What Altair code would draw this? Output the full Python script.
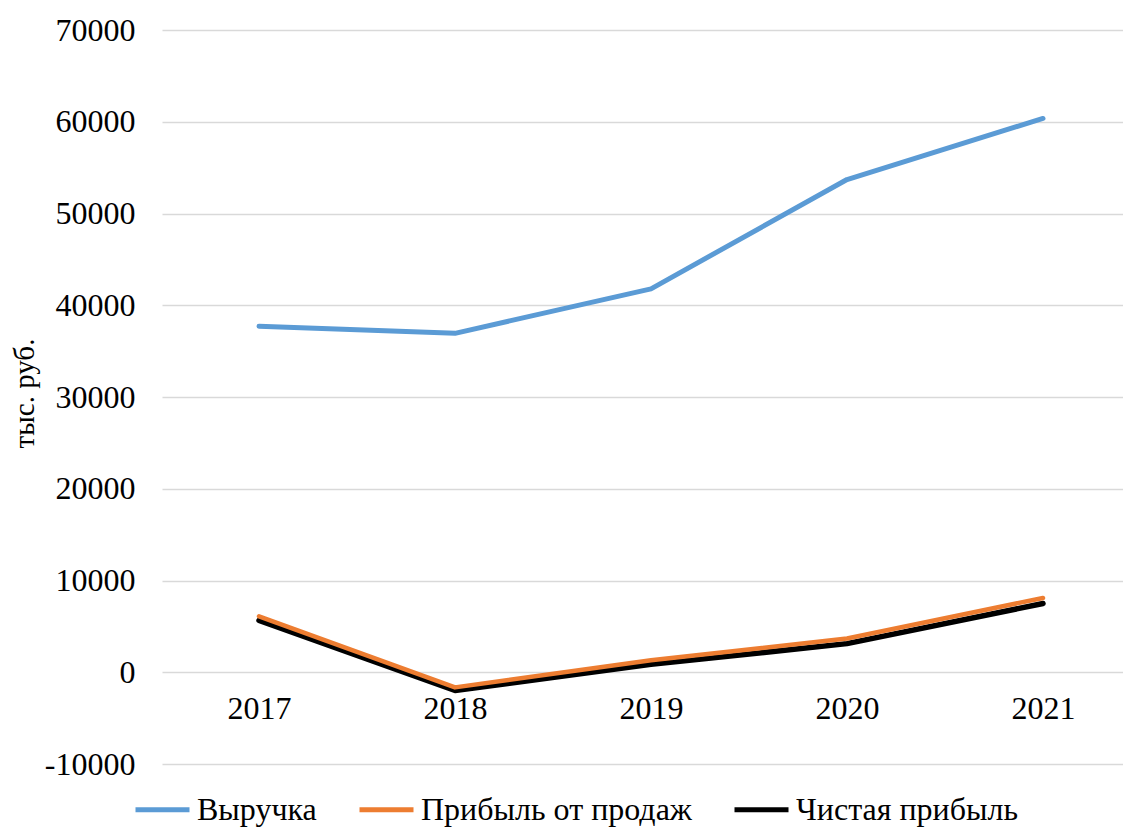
import altair as alt
import pandas as pd

# ---- data ----
years = [2017, 2018, 2019, 2020, 2021]
series_names = ["Выручка", "Прибыль от продаж", "Чистая прибыль"]
revenue = [37710, 36940, 41790, 53700, 60360]
sales_profit = [6100, -1650, 1300, 3670, 8100]
net_profit = [5640, -1980, 860, 3120, 7490]
colors = ["#5B9BD5", "#ED7D31", "#000000"]
y_ticks = list(range(-10000, 70001, 10000))

rows = []
for name, vals in zip(series_names, [revenue, sales_profit, net_profit]):
    for yr, v in zip(years, vals):
        rows.append({"year": yr, "value": v, "series": name})
df = pd.DataFrame(rows)

FONT = "Liberation Serif"
W = 961
H = 734
STEP = 196
x_min = 2017 - 97 / STEP
x_max = x_min + W / STEP

base = alt.Chart(df).encode(
    x=alt.X(
        "year:Q",
        scale=alt.Scale(domain=[x_min, x_max], nice=False, zero=False),
        axis=alt.Axis(
            values=years, format="d", title=None, grid=False, domain=False,
            ticks=False, offset=-92.7, labelPadding=22, labelFontSize=32,
            labelFont=FONT, labelColor="#000000",
        ),
    ),
    y=alt.Y(
        "value:Q",
        scale=alt.Scale(domain=[-10000, 70000], nice=False, zero=False),
        axis=alt.Axis(
            values=y_ticks,
            labelExpr="datum.value < 0 ? '-' + format(-datum.value, 'd') : format(datum.value, 'd')",
            title="тыс. руб.", grid=True,
            gridColor="#D9D9D9", gridWidth=1.5, domain=False, ticks=False,
            labelPadding=27, labelFontSize=32, labelFont=FONT,
            labelColor="#000000", titleFont=FONT, titleFontSize=29,
            titleFontWeight="normal", titleColor="#000000",
            titleX=-138, titleY=363, titleAlign="center",
            titleBaseline="middle", titleAngle=270,
        ),
    ),
    color=alt.Color(
        "series:N",
        scale=alt.Scale(domain=series_names, range=colors),
        legend=alt.Legend(
            title=None, orient="none", direction="horizontal",
            legendX=-29, legendY=750, symbolType="stroke",
            symbolSize=2916, symbolStrokeWidth=5, labelFontSize=32,
            labelFont=FONT, labelColor="#000000", labelOffset=5,
            columnPadding=32, padding=0, labelLimit=500,
        ),
    ),
)

layers = []
for name, sw in [("Выручка", 5), ("Чистая прибыль", 5.5), ("Прибыль от продаж", 4.5)]:
    layers.append(
        base.mark_line(strokeWidth=sw, strokeCap="round", strokeJoin="round")
        .transform_filter(alt.datum.series == name)
    )

chart = (
    alt.layer(*layers)
    .properties(
        width=W,
        height=H,
        autosize=alt.AutoSizeParams(type="none"),
        padding={"left": 154, "top": 22, "right": 0, "bottom": 63},
        background="white",
    )
    .configure_view(stroke=None)
)

chart.save("out.html", embed_options={"renderer": "svg", "actions": False})
